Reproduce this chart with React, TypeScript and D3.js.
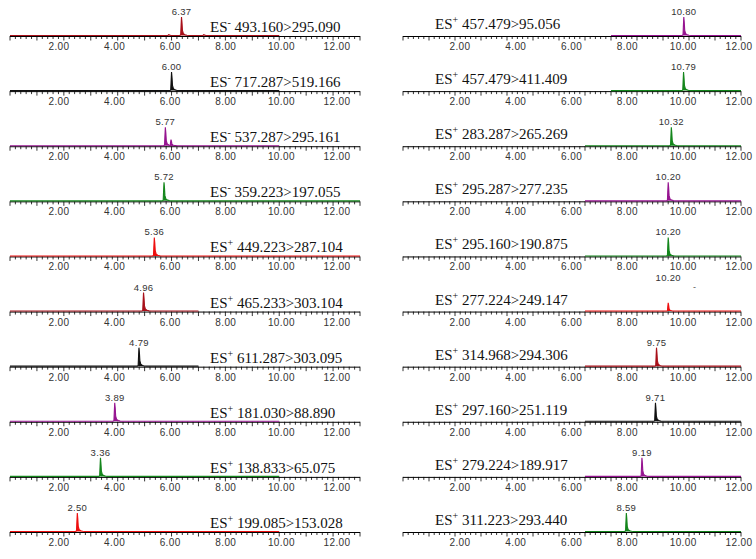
import React from "react";
import * as d3 from "d3";

// ---- data ----
const leftRt = [6.37, 6.0, 5.77, 5.72, 5.36, 4.96, 4.79, 3.89, 3.36, 2.5];
const leftIon = ["-", "-", "-", "-", "+", "+", "+", "+", "+", "+"];
const leftTransition = [
  "493.160>295.090", "717.287>519.166", "537.287>295.161", "359.223>197.055", "449.223>287.104",
  "465.233>303.104", "611.287>303.095", "181.030>88.890", "138.833>65.075", "199.085>153.028",
];
const leftColor = ["darkred", "black", "purple", "green", "red", "darkred", "black", "purple", "green", "red"];
const leftHeight = [1, 1, 1, 1, 1, 1, 1, 1, 1, 1];
const leftTraceStart = [0, 0, 0, 0, 0, 0, 0, 0, 0, 0];
const leftTraceEnd = [10, 10, 10, 13, 13, 7, 7, 10, 10, 10];

const rightRt = [10.8, 10.79, 10.32, 10.2, 10.2, 10.2, 9.75, 9.71, 9.19, 8.59];
const rightIon = ["+", "+", "+", "+", "+", "+", "+", "+", "+", "+"];
const rightTransition = [
  "457.479>95.056", "457.479>411.409", "283.287>265.269", "295.287>277.235", "295.160>190.875",
  "277.224>249.147", "314.968>294.306", "297.160>251.119", "279.224>189.917", "311.223>293.440",
];
const rightColor = ["purple", "green", "green", "purple", "green", "red", "darkred", "black", "purple", "green"];
const rightHeight = [1, 1, 1, 1, 1, 0.45, 1, 1, 1, 1];
const rightTraceStart = [8, 8, 7, 7, 7, 7, 7, 7, 7, 7];
const rightTraceEnd = [13, 13, 13, 13, 13, 13, 13, 13, 13, 13];

// secondary small peaks: [column, row, rt, relative height]
const minorPeaks: [number, number, number, number][] = [
  [0, 2, 5.98, 0.33],
  [0, 0, 5.9, 0.05],
  [0, 0, 7.2, 0.05],
];

// peak profile: [offset in minutes, relative intensity]
const peakProfile: [number, number][] = [
  [-0.06, 0], [-0.03, 0.04], [-0.015, 0.55], [0, 1], [0.018, 0.7], [0.035, 0.28],
  [0.07, 0.1], [0.13, 0.04], [0.2, 0.01], [0.28, 0],
];

const tickLabels = ["2.00", "4.00", "6.00", "8.00", "10.00", "12.00"];
const tickValues = [2, 4, 6, 8, 10, 12];

const COLORS: Record<string, string> = {
  darkred: "#a8101a",
  black: "#111111",
  purple: "#961490",
  green: "#14861c",
  red: "#ee1010",
};

const W = 756;
const H = 559;

type Col = {
  rt: number[]; ion: string[]; tr: string[]; color: string[]; h: number[];
  ts: number[]; te: number[]; x0: number; x1: number; lab0: number; lab1: number;
  labelX: number; labelDy: number;
};

const cols: Col[] = [
  { rt: leftRt, ion: leftIon, tr: leftTransition, color: leftColor, h: leftHeight, ts: leftTraceStart, te: leftTraceEnd, x0: 10, x1: 360, lab0: 59, lab1: 337, labelX: 210, labelDy: -4 },
  { rt: rightRt, ion: rightIon, tr: rightTransition, color: rightColor, h: rightHeight, ts: rightTraceStart, te: rightTraceEnd, x0: 403, x1: 741, lab0: 460, lab1: 739, labelX: 435, labelDy: -7 },
];

const y = d3.scaleLinear().domain([0, 9]).range([36, 532]);
const peakH = 19;

function Panel({ col, ci, i }: { col: Col; ci: number; i: number }) {
  const x = d3.scaleLinear().domain([0, 13]).range([col.x0, col.x1]);
  const xl = d3.scaleLinear().domain([2, 12]).range([col.lab0, col.lab1]);
  const base = y(i);
  const color = COLORS[col.color[i]];
  const rt = col.rt[i];
  const amp = col.h[i];
  const ts = col.ts[i];
  const te = col.te[i];

  const pts: [number, number][] = [[ts, 0]];
  const peaks: [number, number][] = [[rt, amp]];
  minorPeaks.filter((m) => m[0] === ci && m[1] === i).forEach((m) => peaks.push([m[2], m[3]]));
  peaks.sort((a, b) => a[0] - b[0]);
  peaks.forEach(([r, a]) => peakProfile.forEach(([o, v]) => pts.push([r + o, v * a])));
  pts.push([te, 0]);

  const yy = d3.scaleLinear().domain([0, 1]).range([base - 0.5, base - peakH]);
  const line = d3.line<[number, number]>().x((d) => x(d[0])).y((d) => yy(d[1]));
  const minor = d3.range(0, 66).map((k) => k * 0.2).filter((v) => v <= 13.0001);

  return (
    <g>
      <line x1={col.x0} x2={col.x1} y1={base + 0.5} y2={base + 0.5} stroke="#000" strokeWidth={1} />
      {minor.map((v, k) => (
        <line key={k} x1={x(v)} x2={x(v)} y1={base} y2={base + (k % 5 === 0 ? 4.5 : 3)} stroke="#000" strokeWidth={0.8} />
      ))}
      <path d={line(pts) || ""} fill={color} stroke={color} strokeWidth={1.1} />
      {tickValues.map((v, k) => (
        <text key={k} x={xl(v)} y={base + 14} textAnchor="middle" fontFamily="Liberation Sans, Arial, sans-serif" fontSize={10} fill="#333" letterSpacing={0.4}>
          {tickLabels[k]}
        </text>
      ))}
      <text x={x(rt)} y={base - peakH - 2 - (amp < 1 ? 10 : 0)} textAnchor="middle" fontFamily="Liberation Sans, Arial, sans-serif" fontSize={9.5} fill="#333" letterSpacing={0.3}>
        {rt.toFixed(2)}
      </text>
      <text x={col.labelX} y={base + col.labelDy} fontFamily="Liberation Serif, Times New Roman, serif" fontSize={15} fill="#111">
        ES<tspan fontSize={10} dy={-6}>{col.ion[i]}</tspan>
        <tspan dy={6}>{" " + col.tr[i]}</tspan>
      </text>
    </g>
  );
}

export default function App() {
  return (
    <svg width={W} height={H} style={{ position: "absolute", left: 0, top: 0, background: "#fff" }}>
      <rect width={W} height={H} fill="#fff" />
      {cols.map((col, ci) => col.rt.map((_, i) => <Panel key={`${ci}-${i}`} col={col} ci={ci} i={i} />))}
      <text x={693} y={290} fontFamily="Liberation Sans, Arial, sans-serif" fontSize={9} fill="#555">-</text>
    </svg>
  );
}
